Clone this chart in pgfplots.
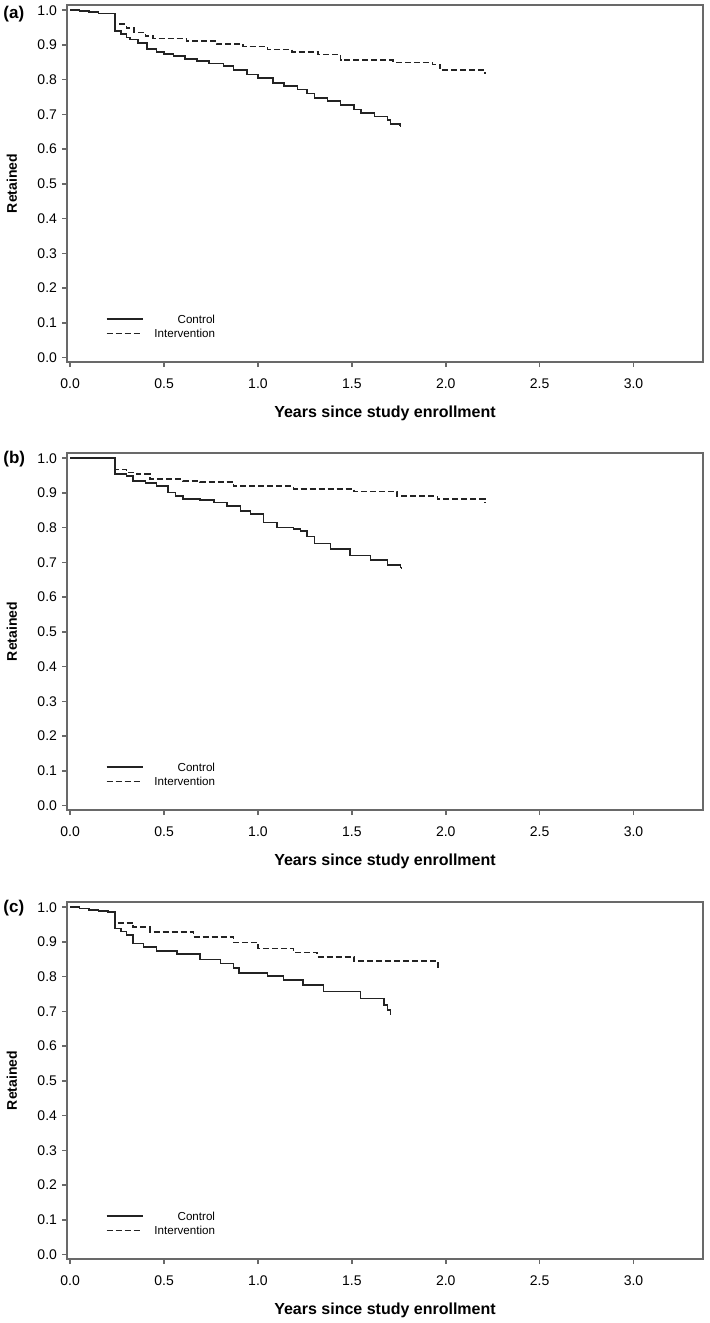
\documentclass[border=0pt]{standalone}
\usepackage{fontspec}
\setmainfont{Liberation Sans}
\usepackage{pgfplots}
\pgfplotsset{compat=1.18}

\definecolor{framegray}{RGB}{105,105,105}
\definecolor{curve}{RGB}{35,35,35}

\pgfplotsset{
  km/.style={
    scale only axis, width=318pt, height=178.5pt,
    xmin=-0.017, xmax=3.37, ymin=-0.013, ymax=1.015,
    xtick={0,0.5,1,1.5,2,2.5,3},
    ytick={0,0.1,0.2,0.3,0.4,0.5,0.6,0.7,0.8,0.9,1},
    /pgf/number format/.cd, fixed, fixed zerofill, precision=1, assume math mode=true, /pgfplots/.cd,
    tick align=outside, major tick length=2.5pt,
    xtick pos=left, ytick pos=left,
    axis line style={framegray, line width=0.75pt},
    tick style={framegray, line width=0.75pt},
    xticklabel style={font=\fontsize{7}{8}\selectfont, yshift=-2.5pt},
    yticklabel style={font=\fontsize{7}{8}\selectfont, xshift=1pt},
    every axis x label/.style={at={(axis description cs:0.5,0)}, anchor=center, yshift=-25.5pt,
      font=\bfseries\fontsize{8}{9}\selectfont},
    every axis y label/.style={at={(axis description cs:-0.0865,0.5)}, rotate=90, anchor=center,
      font=\bfseries\fontsize{7}{8}\selectfont},
    xlabel={Years since study enrollment},
    ylabel={Retained},
    legend style={draw=none, fill=none, at={(axis description cs:0.235,0.136)}, anchor=north east,
      inner sep=0pt, row sep=2pt, font=\fontsize{5.8}{6.5}\selectfont,
      nodes={inner sep=0.5pt, text height=4.2pt, text depth=0pt},
      /tikz/every odd column/.append style={column sep=5pt},
      cells={anchor=east}},
    legend image code/.code={\draw[#1] (0pt,0pt) -- (18pt,0pt);},
  },
  ctrl/.style={const plot, curve, line width=0.8pt, mark=none, solid},
  intv/.style={const plot, curve, line width=0.8pt, mark=none, dash pattern=on 3pt off 1.5pt},
}

\begin{document}
\begin{tikzpicture}
\useasboundingbox (0,0) rectangle (354.5pt,-661.5pt);

% (a)
\begin{axis}[km, at={(33.5pt,-181pt)}, anchor=south west]
\addplot[ctrl] coordinates {(0,1.0) (0.05,0.998) (0.10,0.995) (0.15,0.991) (0.24,0.940) (0.27,0.932)
 (0.30,0.922) (0.32,0.916) (0.36,0.905) (0.41,0.889) (0.46,0.880) (0.50,0.874) (0.55,0.868) (0.61,0.860)
 (0.675,0.853) (0.74,0.846) (0.816,0.839) (0.87,0.828) (0.94,0.815) (1.00,0.805) (1.08,0.791) (1.14,0.782)
 (1.21,0.772) (1.26,0.760) (1.30,0.748) (1.37,0.738) (1.44,0.727) (1.51,0.714) (1.55,0.704) (1.62,0.694)
 (1.69,0.683) (1.706,0.673) (1.755,0.670) (1.76,0.665)};
\addplot[intv] coordinates {(0,1.0) (0.05,0.998) (0.10,0.995) (0.15,0.991) (0.24,0.960) (0.30,0.948)
 (0.34,0.936) (0.40,0.925) (0.44,0.918) (0.62,0.911) (0.78,0.902) (0.92,0.895) (1.05,0.887) (1.18,0.880)
 (1.32,0.873) (1.44,0.856) (1.72,0.849) (1.93,0.844) (1.97,0.827) (2.21,0.817)};
\legend{Control, Intervention}
\end{axis}

% (b)
\begin{axis}[km, at={(33.5pt,-405pt)}, anchor=south west]
\addplot[ctrl] coordinates {(0,1.0) (0.24,0.954) (0.30,0.949) (0.336,0.935) (0.40,0.928) (0.46,0.920)
 (0.52,0.901) (0.56,0.892) (0.60,0.882) (0.69,0.879) (0.765,0.872) (0.835,0.863) (0.906,0.848) (0.96,0.840)
 (1.03,0.815) (1.10,0.800) (1.19,0.797) (1.226,0.790) (1.26,0.775) (1.30,0.755) (1.386,0.738) (1.49,0.720)
 (1.60,0.707) (1.69,0.692) (1.76,0.685) (1.765,0.680)};
\addplot[intv] coordinates {(0,1.0) (0.24,0.968) (0.30,0.959) (0.355,0.954) (0.426,0.940) (0.60,0.935)
 (0.69,0.932) (0.87,0.920) (1.19,0.912) (1.51,0.904) (1.74,0.891) (1.955,0.882) (2.21,0.870)};
\legend{Control, Intervention}
\end{axis}

% (c)
\begin{axis}[km, at={(33.5pt,-629.5pt)}, anchor=south west]
\addplot[ctrl] coordinates {(0,1.0) (0.05,0.996) (0.10,0.992) (0.15,0.989) (0.20,0.986) (0.24,0.939)
 (0.27,0.930) (0.30,0.920) (0.336,0.896) (0.39,0.886) (0.46,0.874) (0.57,0.865) (0.69,0.850) (0.80,0.838)
 (0.87,0.825) (0.90,0.811) (1.05,0.802) (1.135,0.791) (1.24,0.776) (1.35,0.757) (1.545,0.737) (1.67,0.718)
 (1.69,0.704) (1.705,0.690)};
\addplot[intv] coordinates {(0,1.0) (0.05,0.996) (0.10,0.992) (0.15,0.989) (0.20,0.986) (0.24,0.955)
 (0.336,0.943) (0.426,0.929) (0.656,0.915) (0.87,0.898) (1.00,0.881) (1.19,0.870) (1.315,0.857)
 (1.51,0.845) (1.96,0.824)};
\legend{Control, Intervention}
\end{axis}

\node[font=\bfseries\fontsize{8.5}{10}\selectfont, anchor=west, inner sep=0pt] at (1.5pt,-7pt) {(a)};
\node[font=\bfseries\fontsize{8.5}{10}\selectfont, anchor=west, inner sep=0pt] at (1.5pt,-229.5pt) {(b)};
\node[font=\bfseries\fontsize{8.5}{10}\selectfont, anchor=west, inner sep=0pt] at (1.5pt,-453.8pt) {(c)};
\end{tikzpicture}
\end{document}
